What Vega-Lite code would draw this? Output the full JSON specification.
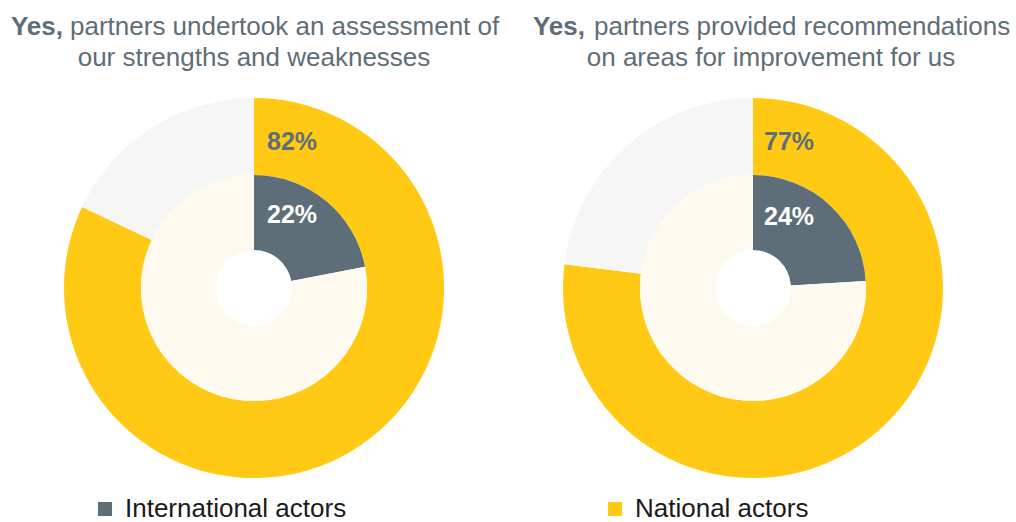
{
  "$schema": "https://vega.github.io/schema/vega-lite/v6.json",
  "autosize": {"type": "pad"},
  "padding": {"left": 5, "top": 14, "right": 0, "bottom": 0},
  "background": "white",
  "config": {
    "view": {"stroke": null},
    "font": "Liberation Sans",
    "concat": {"spacing": 1}
  },
  "datasets": {
    "arcs": [
      {"panel": "A", "ring": "outer", "category": "National actors", "value": 82, "order": 1},
      {"panel": "A", "ring": "outer", "category": "Other national", "value": 18, "order": 2},
      {"panel": "A", "ring": "inner", "category": "International actors", "value": 22, "order": 1},
      {"panel": "A", "ring": "inner", "category": "Other international", "value": 78, "order": 2},
      {"panel": "B", "ring": "outer", "category": "National actors", "value": 77, "order": 1},
      {"panel": "B", "ring": "outer", "category": "Other national", "value": 23, "order": 2},
      {"panel": "B", "ring": "inner", "category": "International actors", "value": 24, "order": 1},
      {"panel": "B", "ring": "inner", "category": "Other international", "value": 76, "order": 2}
    ],
    "labels": [
      {"panel": "A", "ring": "outer", "label": "82%"},
      {"panel": "A", "ring": "inner", "label": "22%"},
      {"panel": "B", "ring": "outer", "label": "77%"},
      {"panel": "B", "ring": "inner", "label": "24%"}
    ],
    "titles": [
      {"panel": "A", "bold": "Yes,", "line1": "partners undertook an assessment of", "line2": "our strengths and weaknesses"},
      {"panel": "B", "bold": "Yes,", "line1": "partners provided recommendations", "line2": "on areas for improvement for us"}
    ]
  },
  "hconcat": [
    {
      "width": 498,
      "height": 380,
      "layer": [
        {
          "data": {"name": "arcs"},
          "transform": [{"filter": "datum.panel === 'A' && datum.ring === 'outer'"}],
          "mark": {"type": "arc", "radius": 190, "radius2": 113, "strokeWidth": 0},
          "encoding": {
            "theta": {"field": "value", "type": "quantitative", "stack": true},
            "order": {"field": "order", "type": "quantitative"},
            "color": {
              "field": "category", "type": "nominal",
              "scale": {
                "domain": ["International actors", "National actors", "Other national", "Other international"],
                "range": ["#5E6E78", "#FFC914", "#F6F6F6", "#FFFAEF"]
              },
              "legend": {
                "values": ["International actors", "National actors"],
                "title": null,
                "orient": "none",
                "direction": "horizontal",
                "columns": 2,
                "legendX": 87,
                "legendY": 398,
                "padding": 0,
                "symbolType": "square",
                "symbolSize": 196,
                "symbolStrokeWidth": 0,
                "symbolOpacity": 1,
                "labelFontSize": 26,
                "labelColor": "#1A1A1A",
                "labelOffset": 7,
                "labelLimit": 400,
                "columnPadding": 255
              }
            }
          }
        },
        {
          "data": {"name": "arcs"},
          "transform": [{"filter": "datum.panel === 'A' && datum.ring === 'inner'"}],
          "mark": {"type": "arc", "radius": 113, "radius2": 38, "strokeWidth": 0},
          "encoding": {
            "theta": {"field": "value", "type": "quantitative", "stack": true},
            "order": {"field": "order", "type": "quantitative"},
            "color": {"field": "category", "type": "nominal"}
          }
        },
        {
          "data": {"name": "labels"},
          "transform": [{"filter": "datum.panel === 'A' && datum.ring === 'outer'"}],
          "mark": {"type": "text", "align": "left", "baseline": "alphabetic", "dx": 13, "dy": -138, "fontSize": 25, "fontWeight": "bold", "color": "#5E6E78"},
          "encoding": {"text": {"field": "label"}}
        },
        {
          "data": {"name": "labels"},
          "transform": [{"filter": "datum.panel === 'A' && datum.ring === 'inner'"}],
          "mark": {"type": "text", "align": "left", "baseline": "alphabetic", "dx": 13, "dy": -65, "fontSize": 25, "fontWeight": "bold", "color": "white"},
          "encoding": {"text": {"field": "label"}}
        },
        {
          "data": {"name": "titles"},
          "transform": [{"filter": "datum.panel === 'A'"}],
          "mark": {"type": "text", "align": "right", "baseline": "alphabetic", "dx": -191, "dy": -253, "fontSize": 26, "fontWeight": "bold", "color": "#5E6E78"},
          "encoding": {"text": {"field": "bold"}}
        },
        {
          "data": {"name": "titles"},
          "transform": [{"filter": "datum.panel === 'A'"}],
          "mark": {"type": "text", "align": "left", "baseline": "alphabetic", "dx": -184, "dy": -253, "fontSize": 26, "color": "#5E6E78"},
          "encoding": {"text": {"field": "line1"}}
        },
        {
          "data": {"name": "titles"},
          "transform": [{"filter": "datum.panel === 'A'"}],
          "mark": {"type": "text", "align": "center", "baseline": "alphabetic", "dx": 0, "dy": -222, "fontSize": 26, "color": "#5E6E78"},
          "encoding": {"text": {"field": "line2"}}
        }
      ]
    },
    {
      "width": 498,
      "height": 380,
      "layer": [
        {
          "data": {"name": "arcs"},
          "transform": [{"filter": "datum.panel === 'B' && datum.ring === 'outer'"}],
          "mark": {"type": "arc", "radius": 190, "radius2": 113, "strokeWidth": 0},
          "encoding": {
            "theta": {"field": "value", "type": "quantitative", "stack": true},
            "order": {"field": "order", "type": "quantitative"},
            "color": {"field": "category", "type": "nominal"}
          }
        },
        {
          "data": {"name": "arcs"},
          "transform": [{"filter": "datum.panel === 'B' && datum.ring === 'inner'"}],
          "mark": {"type": "arc", "radius": 113, "radius2": 38, "strokeWidth": 0},
          "encoding": {
            "theta": {"field": "value", "type": "quantitative", "stack": true},
            "order": {"field": "order", "type": "quantitative"},
            "color": {"field": "category", "type": "nominal"}
          }
        },
        {
          "data": {"name": "labels"},
          "transform": [{"filter": "datum.panel === 'B' && datum.ring === 'outer'"}],
          "mark": {"type": "text", "align": "left", "baseline": "alphabetic", "dx": 11, "dy": -138, "fontSize": 25, "fontWeight": "bold", "color": "#5E6E78"},
          "encoding": {"text": {"field": "label"}}
        },
        {
          "data": {"name": "labels"},
          "transform": [{"filter": "datum.panel === 'B' && datum.ring === 'inner'"}],
          "mark": {"type": "text", "align": "left", "baseline": "alphabetic", "dx": 11, "dy": -63, "fontSize": 25, "fontWeight": "bold", "color": "white"},
          "encoding": {"text": {"field": "label"}}
        },
        {
          "data": {"name": "titles"},
          "transform": [{"filter": "datum.panel === 'B'"}],
          "mark": {"type": "text", "align": "right", "baseline": "alphabetic", "dx": -168, "dy": -253, "fontSize": 26, "fontWeight": "bold", "color": "#5E6E78"},
          "encoding": {"text": {"field": "bold"}}
        },
        {
          "data": {"name": "titles"},
          "transform": [{"filter": "datum.panel === 'B'"}],
          "mark": {"type": "text", "align": "left", "baseline": "alphabetic", "dx": -159, "dy": -253, "fontSize": 26, "color": "#5E6E78"},
          "encoding": {"text": {"field": "line1"}}
        },
        {
          "data": {"name": "titles"},
          "transform": [{"filter": "datum.panel === 'B'"}],
          "mark": {"type": "text", "align": "center", "baseline": "alphabetic", "dx": 18, "dy": -222, "fontSize": 26, "color": "#5E6E78"},
          "encoding": {"text": {"field": "line2"}}
        }
      ]
    }
  ]
}
